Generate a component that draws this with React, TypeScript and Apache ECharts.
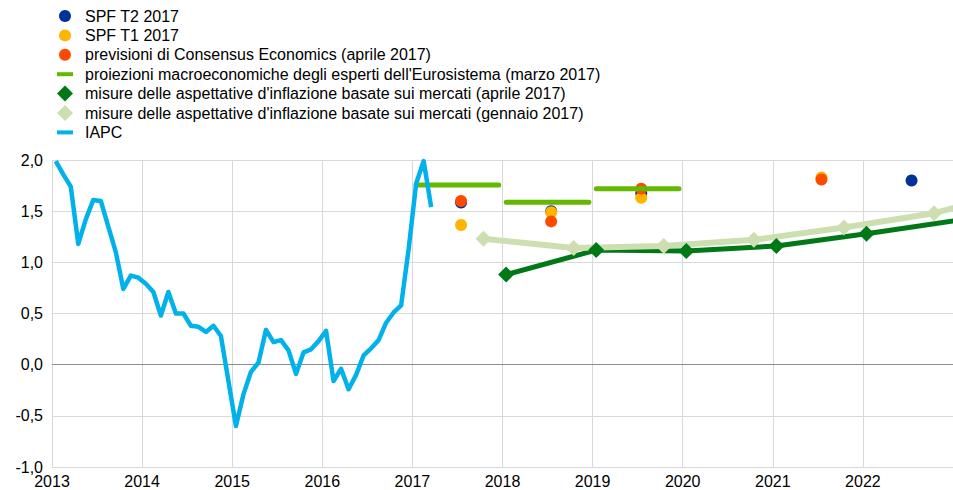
import React, { useEffect, useRef } from "react";
import * as echarts from "echarts";

// ---- data ----
const yearTicks = [2013, 2014, 2015, 2016, 2017, 2018, 2019, 2020, 2021, 2022];
const iapcStart = 2013;
const iapcValues = [
  1.99, 1.86, 1.74, 1.18, 1.42, 1.61, 1.6, 1.35, 1.1, 0.74, 0.87, 0.85,
  0.79, 0.71, 0.48, 0.71, 0.5, 0.5, 0.38, 0.37, 0.32, 0.38, 0.28, -0.16,
  -0.6, -0.29, -0.07, 0.02, 0.34, 0.22, 0.24, 0.14, -0.09, 0.12, 0.15, 0.23,
  0.33, -0.16, -0.04, -0.24, -0.1, 0.09, 0.16, 0.24, 0.41, 0.51, 0.58, 1.13,
  1.77, 1.99, 1.54,
];
const spfT2X = [2017.54, 2018.54, 2019.54, 2022.54];
const spfT2Y = [1.585, 1.5, 1.675, 1.8];
const spfT1X = [2017.54, 2018.54, 2019.54, 2021.54];
const spfT1Y = [1.365, 1.49, 1.63, 1.83];
const consX = [2017.54, 2018.54, 2019.54, 2021.54];
const consY = [1.6, 1.4, 1.72, 1.81];
const projYears = [2017, 2018, 2019];
const projValues = [1.755, 1.587, 1.72];
const mktAprX = [2018.04, 2019.04, 2020.04, 2021.04, 2022.04, 2023.04];
const mktAprY = [0.88, 1.12, 1.11, 1.16, 1.28, 1.41];
const mktJanX = [2017.79, 2018.79, 2019.79, 2020.79, 2021.79, 2022.79, 2023.79];
const mktJanY = [1.23, 1.14, 1.16, 1.22, 1.34, 1.48, 1.72];

const names = {
  spfT2: "SPF T2 2017",
  spfT1: "SPF T1 2017",
  cons: "previsioni di Consensus Economics (aprile 2017)",
  proj: "proiezioni macroeconomiche degli esperti dell'Eurosistema (marzo 2017)",
  mktApr: "misure delle aspettative d'inflazione basate sui mercati (aprile 2017)",
  mktJan: "misure delle aspettative d'inflazione basate sui mercati (gennaio 2017)",
  iapc: "IAPC",
};

const colors = {
  blue: "#003299",
  yellow: "#ffb400",
  red: "#ff4b00",
  green: "#65b800",
  darkGreen: "#007816",
  lightGreen: "#cddfb1",
  iapc: "#00b1ea",
};

const FONT = "Arial, 'Liberation Sans', sans-serif";
const FS = 16;

export default function App() {
  const ref = useRef<HTMLDivElement>(null);
  useEffect(() => {
    if (!ref.current) return;
    const chart = echarts.init(ref.current, undefined, { renderer: "svg" });
    const zip = (xs: number[], ys: number[]) => xs.map((x, i) => [x, ys[i]]);
    const iapcData = iapcValues.map((v, i) => [iapcStart + (i + 0.5) / 12, v]);

    const legendRows = [
      { name: names.spfT2, icon: "circle", w: 12, h: 12, left: 59, pad: 9 },
      { name: names.spfT1, icon: "circle", w: 12, h: 12, left: 59, pad: 9 },
      { name: names.cons, icon: "circle", w: 12, h: 12, left: 59, pad: 9 },
      { name: names.proj, icon: "rect", w: 16, h: 4, left: 57, pad: 7 },
      { name: names.mktApr, icon: "diamond", w: 16, h: 16, left: 57, pad: 7 },
      { name: names.mktJan, icon: "diamond", w: 16, h: 16, left: 57, pad: 7 },
      { name: names.iapc, icon: "rect", w: 16, h: 4, left: 57, pad: 7 },
    ];
    const legends = legendRows.map((r, i) => ({
      left: r.left,
      top: 17 + 19.4 * i - 9,
      padding: 0,
      itemWidth: r.w,
      itemHeight: r.h,
      selectedMode: false,
      data: [{ name: r.name, icon: r.icon }],
      textStyle: { fontFamily: FONT, fontSize: FS, color: "#000", padding: [0, 0, 0, r.pad] },
    }));

    const projSeries = projYears.map((y, i) => ({
      name: names.proj,
      type: "line",
      data: [
        [y + 0.5 / 12, projValues[i]],
        [y + 11.5 / 12, projValues[i]],
      ],
      symbol: "none",
      lineStyle: { color: colors.green, width: 5, cap: "round" },
      itemStyle: { color: colors.green },
      z: 4,
    }));

    const scatter = (name: string, xs: number[], ys: number[], color: string) => ({
      name,
      type: "scatter",
      data: zip(xs, ys),
      symbol: "circle",
      symbolSize: 12,
      itemStyle: { color, opacity: 1 },
      z: 3,
    });

    chart.setOption({
      animation: false,
      legend: legends,
      grid: { left: 52, right: 0, top: 160, bottom: 23, containLabel: false },
      xAxis: {
        type: "value",
        min: 2013,
        max: 2023,
        interval: 1,
        axisLine: { show: true, lineStyle: { color: "#d9d9d9" } },
        axisTick: { show: false },
        splitLine: { show: true, lineStyle: { color: "#d9d9d9" } },
        axisLabel: {
          showMaxLabel: false,
          color: "#000",
          fontFamily: FONT,
          fontSize: FS,
          margin: 6,
          formatter: (v: number) => (yearTicks.includes(v) ? String(v) : ""),
        },
      },
      yAxis: {
        type: "value",
        min: -1,
        max: 2,
        interval: 0.5,
        axisLine: { show: true, lineStyle: { color: "#d9d9d9" } },
        axisTick: { show: false },
        splitLine: { show: true, lineStyle: { color: "#d9d9d9" } },
        axisLabel: {
          color: "#000",
          fontFamily: FONT,
          fontSize: FS,
          margin: 9,
          formatter: (v: number) => v.toFixed(1).replace(".", ","),
        },
      },
      series: [
        scatter(names.spfT2, spfT2X, spfT2Y, colors.blue),
        scatter(names.spfT1, spfT1X, spfT1Y, colors.yellow),
        scatter(names.cons, consX, consY, colors.red),
        ...projSeries,
        {
          name: names.mktApr,
          type: "line",
          data: zip(mktAprX, mktAprY),
          symbol: "diamond",
          symbolSize: 16,
          showAllSymbol: true,
          clip: true,
          lineStyle: { color: colors.darkGreen, width: 5 },
          itemStyle: { color: colors.darkGreen },
          z: 5,
        },
        {
          name: names.mktJan,
          type: "line",
          data: zip(mktJanX, mktJanY),
          symbol: "diamond",
          symbolSize: 16,
          showAllSymbol: true,
          clip: true,
          lineStyle: { color: colors.lightGreen, width: 6 },
          itemStyle: { color: colors.lightGreen },
          z: 5,
        },
        {
          name: names.iapc,
          type: "line",
          data: iapcData,
          symbol: "none",
          clip: true,
          lineStyle: { color: colors.iapc, width: 4.5, join: "round" },
          itemStyle: { color: colors.iapc },
          z: 6,
          markLine: {
            silent: true,
            symbol: "none",
            label: { show: false },
            lineStyle: { color: "#8c8c8c", width: 1, type: "solid" },
            data: [{ yAxis: 0 }],
            z: 1,
          },
        },
      ],
    });
    return () => chart.dispose();
  }, []);
  return (
    <div
      ref={ref}
      style={{ position: "fixed", left: 0, top: 0, width: 953, height: 490, background: "#fff" }}
    />
  );
}
